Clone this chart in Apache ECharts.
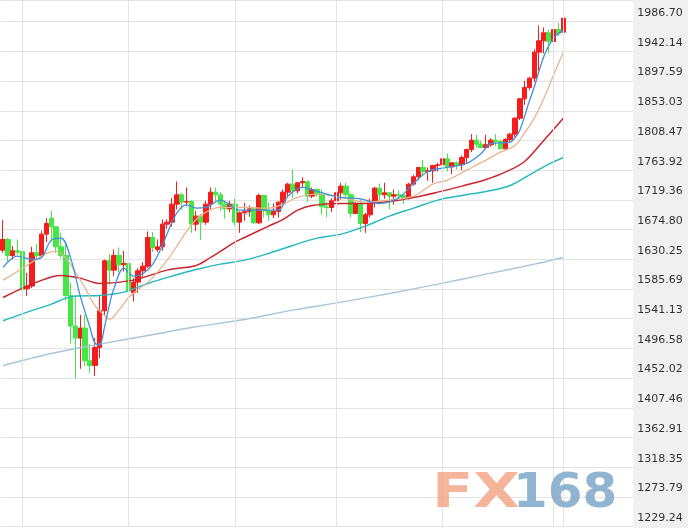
<!DOCTYPE html>
<html><head><meta charset="utf-8">
<style>html,body{margin:0;padding:0;background:#fff}#c{width:688px;height:528px}</style>
<script src="https://cdn.jsdelivr.net/npm/echarts/dist/echarts.min.js"></script>
</head><body><div id="c"></div>
<script>
// Y axis tick labels
const tickLabels = ['1229.24','1273.79','1318.35','1362.91','1407.46','1452.02','1496.58','1541.13','1585.69',
  '1630.25','1674.80','1719.36','1763.92','1808.47','1853.03','1897.59','1942.14','1986.70'];

// Daily categories (weekdays from 2020-02-24, incl. empty slots at right)
const categories = [];
(function(){ const d = new Date(Date.UTC(2020,1,24));
  while (categories.length < 131) { const w = d.getUTCDay();
    if (w !== 0 && w !== 6) categories.push(d.toISOString().slice(0,10));
    d.setUTCDate(d.getUTCDate()+1); } })();

// Month-boundary / current-day vertical lines
const gridDays = ['2020-02-28','2020-03-31','2020-04-30','2020-05-29','2020-06-30','2020-07-31','2020-08-04'];

const opens = [1644,1660,1636,1643,1642,1586,1590,1640,1636,1668,
 1692,1679,1649,1636,1576,1530,1512,1527,1478,1471,
 1498,1553,1628,1614,1636,1622,1624,1580,1596,1613,
 1620,1663,1645,1649,1683,1686,1713,1727,1716,1717,
 1683,1695,1686,1713,1731,1727,1713,1706,1713,1686,
 1700,1702,1706,1685,1726,1703,1697,1702,1716,1731,
 1743,1733,1745,1747,1725,1735,1728,1709,1708,1718,
 1730,1740,1727,1699,1714,1684,1697,1716,1737,1727,
 1730,1725,1727,1726,1722,1743,1754,1768,1762,1763,
 1771,1772,1781,1769,1775,1772,1783,1795,1809,1803,
 1798,1802,1809,1807,1796,1810,1818,1842,1871,1888,
 1902,1941,1958,1970,1957,1975,1971];
const closes = [1660,1636,1643,1641,1585,1590,1640,1636,1668,1684,
 1679,1649,1636,1576,1530,1512,1527,1478,1471,1498,
 1553,1628,1614,1636,1622,1624,1583,1596,1613,1620,
 1663,1648,1649,1683,1686,1713,1727,1716,1717,1683,
 1695,1686,1713,1731,1727,1713,1706,1713,1686,1700,
 1702,1706,1685,1726,1703,1697,1702,1716,1731,1743,
 1733,1745,1747,1725,1735,1728,1709,1708,1718,1730,
 1740,1727,1699,1714,1684,1697,1716,1737,1727,1730,
 1725,1727,1726,1722,1743,1754,1768,1762,1763,1771,
 1772,1781,1769,1775,1772,1783,1795,1809,1803,1798,
 1802,1809,1807,1796,1810,1818,1842,1871,1888,1902,
 1941,1958,1970,1957,1975,1969,1992];
const lows = [1640,1627,1630,1637,1563,1575,1587,1630,1634,1656,
 1657,1640,1632,1568,1504,1451,1466,1470,1460,1455,
 1482,1546,1592,1605,1611,1612,1577,1567,1580,1604,
 1617,1641,1641,1643,1676,1679,1705,1705,1710,1670,
 1673,1659,1682,1705,1718,1703,1691,1701,1681,1670,
 1688,1694,1683,1683,1693,1688,1692,1693,1709,1723,
 1722,1729,1738,1716,1722,1724,1697,1693,1701,1715,
 1720,1721,1693,1698,1671,1670,1693,1708,1717,1721,
 1705,1712,1718,1713,1720,1741,1749,1755,1748,1745,
 1762,1766,1762,1758,1765,1764,1774,1791,1797,1797,
 1795,1799,1800,1795,1795,1805,1814,1839,1862,1884,
 1896,1913,1939,1939,1949,1965,1969];
const highs = [1689,1662,1650,1660,1648,1610,1649,1653,1673,1692,
 1703,1680,1670,1654,1595,1575,1547,1547,1503,1512,
 1575,1630,1638,1645,1648,1643,1642,1602,1617,1626,
 1672,1671,1660,1690,1690,1722,1747,1730,1738,1719,
 1703,1698,1718,1738,1738,1731,1718,1718,1721,1702,
 1715,1711,1709,1729,1727,1715,1714,1717,1735,1745,
 1765,1746,1753,1748,1738,1737,1735,1716,1722,1737,
 1745,1745,1730,1716,1720,1700,1721,1739,1744,1745,
 1731,1735,1734,1729,1745,1757,1768,1779,1768,1772,
 1775,1785,1789,1775,1777,1786,1796,1818,1817,1808,
 1817,1812,1818,1810,1812,1820,1843,1872,1898,1904,
 1945,1981,1978,1975,1983,1985,1994];

// Moving-average lines as [dayIndex, value]
const ma5 = [[0,1618],[3,1635],[6,1630],[8,1633],[10,1659],[12,1662],[14,1632],[16,1575],[18,1528],[19,1505],[20,1502],
 [21,1528],[22,1561],[23,1587],[25,1617],[27,1605],[29,1609],[31,1623],[33,1651],[34,1669],[36,1700],[38,1712],
 [40,1707],[42,1708],[45,1719],[49,1704],[53,1704],[57,1704],[59,1725],[62,1738],[65,1732],[70,1723],[74,1721],
 [78,1714],[82,1723],[85,1744],[88,1762],[92,1768],[96,1774],[99,1789],[101,1804],[105,1806],[106,1813],
 [107,1824],[109,1868],[110,1889],[112,1935],[114,1962],[116,1974]];
const ma10 = [[0,1599],[3,1612],[6,1626],[9,1639],[11,1642],[13,1632],[15,1611],[17,1587],[19,1561],[21,1546],
 [22,1540],[24,1554],[26,1573],[28,1585],[30,1596],[32,1611],[34,1629],[36,1650],[38,1672],[40,1690],[42,1701],
 [45,1708],[50,1708],[55,1707],[58,1713],[61,1723],[65,1728],[70,1723],[75,1716],[80,1719],[85,1725],[89,1743],
 [92,1749],[96,1764],[100,1779],[103,1791],[106,1801],[108,1820],[110,1842],[112,1872],[114,1907],[116,1941]];
const ma30 = [[0,1573],[7,1596],[12,1606],[16,1602],[20,1594],[27,1599],[34,1614],[40,1621],[43,1633],[45,1642],
 [48,1656],[50,1663],[55,1680],[58,1690],[61,1704],[64,1711],[70,1714],[75,1714],[80,1717],[85,1723],[90,1731],
 [95,1740],[100,1750],[104,1761],[108,1777],[112,1809],[116,1842]];
const ma60 = [[0,1538],[5,1551],[10,1563],[13,1572],[15,1575],[20,1576],[25,1581],[30,1594],[35,1605],[40,1615],
 [45,1623],[50,1629],[55,1639],[60,1651],[65,1662],[70,1668],[75,1680],[78,1689],[80,1695],[85,1707],[90,1719],
 [95,1726],[100,1732],[105,1741],[110,1761],[113,1773],[116,1783]];
const ma200 = [[0,1471],[10,1489],[20,1503],[30,1516],[40,1529],[50,1540],[60,1554],[70,1566],[80,1579],
 [90,1593],[100,1608],[110,1623],[116,1633]];

const candles = opens.map((o,i) => [o, closes[i], lows[i], highs[i]]);
const UP = '#f41c1c', DOWN = '#46e646';

const chart = echarts.init(document.getElementById('c'), null, {renderer:'canvas'});
function maLine(name, data, color, width){
  return {name, type:'line', data, smooth:0.35, symbol:'none', z:3, silent:true,
    lineStyle:{color, width}, itemStyle:{color}};
}
chart.setOption({
  animation:false,
  backgroundColor:'#ffffff',
  grid:{left:0.585, top:0, width:632.73, height:526.6, containLabel:false},
  xAxis:{type:'category', data:categories, boundaryGap:true,
    axisLine:{show:false}, axisTick:{show:false}, axisLabel:{show:false}, splitLine:{show:false}},
  yAxis:{type:'value', position:'right', min:1229.24, max:2019.24, interval:44.5565, scale:true,
    axisLine:{show:false}, axisTick:{show:false},
    splitLine:{lineStyle:{color:'#e3e3e3', width:1}},
    axisLabel:{margin:4, color:'#333', fontFamily:'DejaVu Sans', fontSize:11, verticalAlign:'bottom',
      padding:[0,0,3,0], showMaxLabel:false,
      formatter:v => tickLabels.find(s => Math.abs(parseFloat(s) - v) < 1) || ''}},
  graphic:[
    {type:'rect', z:-1, silent:true, shape:{x:633.3, y:0, width:55, height:528}, style:{fill:'#f0f0f0'}},
    {type:'text', z:100, silent:true, x:432, y:495, scaleX:1.26,
      style:{text:'FX', font:'bold 48px "DejaVu Sans"', fill:'#f5a88a', opacity:0.85, verticalAlign:'middle'}},
    {type:'text', z:100, silent:true, x:513, y:495, scaleX:1.04,
      style:{text:'168', font:'bold 48px "DejaVu Sans"', fill:'#7ea8c8', opacity:0.85, verticalAlign:'middle'}}
  ],
  series:[
    {name:'grid', type:'line', data:[], z:1, silent:true,
      markLine:{silent:true, symbol:['none','none'], label:{show:false}, animation:false,
        lineStyle:{color:'#e3e3e3', width:1, type:'solid'},
        data:gridDays.map(d => ({xAxis:d}))}},
    {name:'K', type:'candlestick', data:candles, barWidth:5, z:2,
      itemStyle:{color:UP, color0:DOWN, borderColor:UP, borderColor0:DOWN, borderWidth:1}},
    maLine('MA200', ma200, '#a9c6d8', 1.5),
    maLine('MA60', ma60, '#27b9c2', 1.5),
    maLine('MA30', ma30, '#c9252d', 1.5),
    maLine('MA10', ma10, '#e5b590', 1.3),
    maLine('MA5', ma5, '#3f8fda', 1.3)
  ]
});
</script></body></html>
